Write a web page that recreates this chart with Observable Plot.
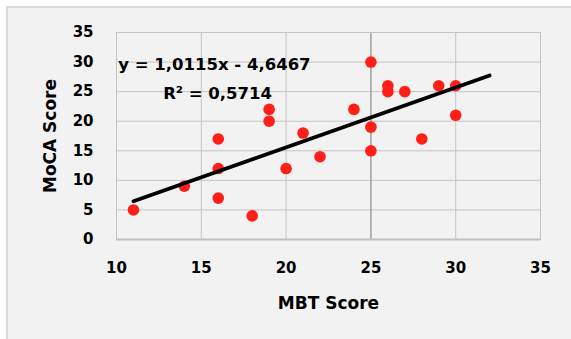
<!DOCTYPE html>
<html>
<head>
<meta charset="utf-8">
<script src="https://cdn.jsdelivr.net/npm/d3@7"></script>
<script src="https://cdn.jsdelivr.net/npm/@observablehq/plot@0.6"></script>
<style>
  html, body { margin: 0; padding: 0; background: #ffffff; }
  #wrap { position: relative; width: 571px; height: 339px; overflow: hidden; background: #ffffff; }
  #panel { position: absolute; left: 6px; top: 6px; right: 0; bottom: 0;
           background: #f2f2f2; border-top: 2px solid #d9d9d9; border-left: 2px solid #d9d9d9; }
  #chart { position: absolute; left: 0; top: 0; }
</style>
</head>
<body>
<div id="wrap"><div id="panel"></div><div id="chart"></div></div>
<script>
// MBT score (x) and MoCA score (y) for each participant
const mbtScore  = [11, 14, 16, 16, 16, 18, 19, 19, 20, 21, 22, 24, 25, 25, 25, 26, 26, 27, 28, 29, 30, 30];
const mocaScore = [ 5,  9, 17, 12,  7,  4, 22, 20, 12, 18, 14, 22, 30, 19, 15, 26, 25, 25, 17, 26, 26, 21];

// Trendline as reported on the chart
const trendSlope = 1.0115;
const trendIntercept = -4.6467;
const trendRangeX = [11, 32];
const equationLabel = "y = 1,0115x - 4,6467";
const r2Label = "R\u00b2 = 0,5714";

const xTicks = [10, 15, 20, 25, 30, 35];
const yTicks = [0, 5, 10, 15, 20, 25, 30, 35];
const xTitle = "MBT Score";
const yTitle = "MoCA Score";

const points = mbtScore.map((x, i) => ({x, y: mocaScore[i]}));
const trend = trendRangeX.map(x => ({x, y: trendSlope * x + trendIntercept}));

const chart = Plot.plot({
  width: 571,
  height: 339,
  marginLeft: 116,
  marginRight: 31,
  marginTop: 32,
  marginBottom: 100,
  style: {background: "transparent", fontFamily: "DejaVu Sans", fontWeight: "bold", color: "#000"},
  x: {domain: [10, 35]},
  y: {domain: [0, 35]},
  marks: [
    Plot.gridX(xTicks, {stroke: "#c4c4c4", strokeOpacity: 1, strokeWidth: 1}),
    Plot.gridY(yTicks, {stroke: "#c4c4c4", strokeOpacity: 1, strokeWidth: 1}),
    Plot.ruleX([25], {stroke: "#a9a9a9", strokeWidth: 1.6}),
    Plot.frame({stroke: "#c4c4c4"}),
    Plot.ruleY([0], {stroke: "#c0c0c0", strokeWidth: 2}),
    Plot.axisX(xTicks, {tickSize: 0, tickPadding: 23, fontSize: 15, label: null, fill: "#000"}),
    Plot.axisY(yTicks, {tickSize: 0, tickPadding: 23, fontSize: 15, label: null, fill: "#000"}),
    Plot.text([xTitle], {frameAnchor: "bottom", dy: 64, textAnchor: "middle", lineAnchor: "middle", fontSize: 17, fontWeight: "bold", fill: "#000"}),
    Plot.text([yTitle], {frameAnchor: "left", dx: -66, rotate: -90, textAnchor: "middle", lineAnchor: "middle", fontSize: 17, fontWeight: "bold", fill: "#000"}),
    Plot.dot(points, {x: "x", y: "y", r: 5.8, fill: "#ff1f17", stroke: "none"}),
    Plot.line(trend, {x: "x", y: "y", stroke: "#000", strokeWidth: 3.8}),
    Plot.text([equationLabel], {x: 10.1, y: 29.6, textAnchor: "start", lineAnchor: "middle", fontSize: 16.5, fontWeight: "bold", fill: "#000"}),
    Plot.text([r2Label], {x: 15.96, y: 24.7, textAnchor: "middle", lineAnchor: "middle", fontSize: 16.5, fontWeight: "bold", fill: "#000"})
  ]
});
document.getElementById("chart").appendChild(chart);
</script>
</body>
</html>
